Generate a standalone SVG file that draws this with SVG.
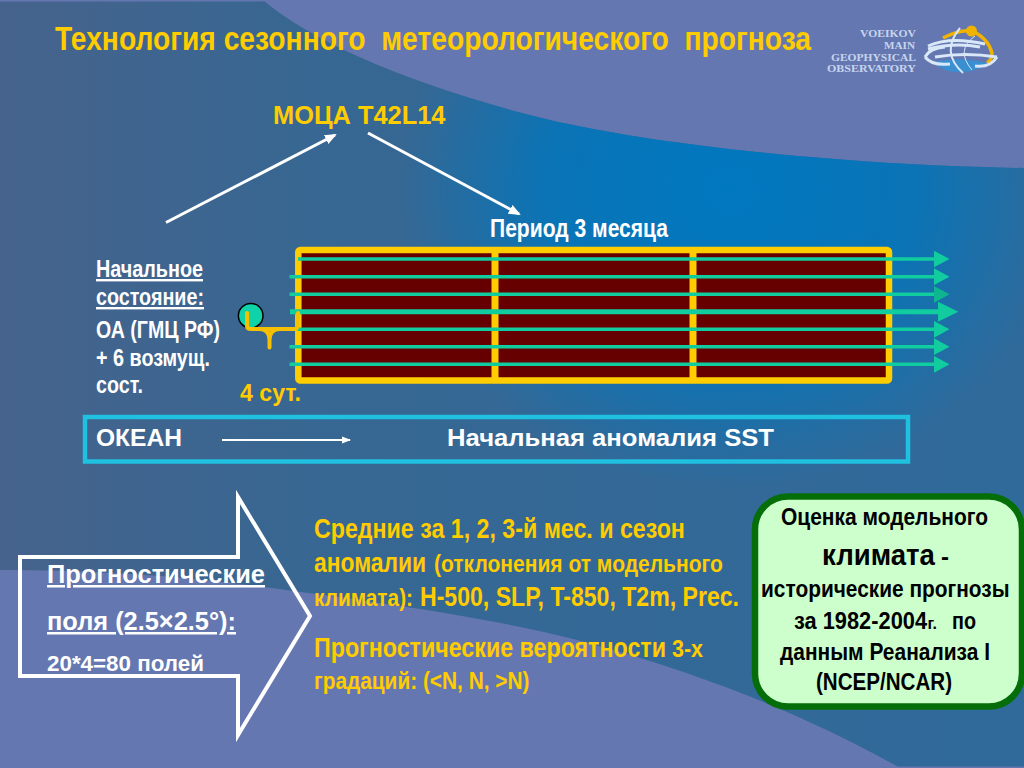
<svg xmlns="http://www.w3.org/2000/svg" width="1024" height="768" viewBox="0 0 1024 768">
<defs>
<linearGradient id="bg" x1="0" y1="0" x2="1" y2="0"><stop offset="0" stop-color="#46638c"/><stop offset="0.3" stop-color="#376792"/><stop offset="1" stop-color="#2f6a9b"/></linearGradient>
<radialGradient id="glow" gradientUnits="userSpaceOnUse" cx="0" cy="0" r="1" gradientTransform="translate(730 190) scale(330 300)"><stop offset="0" stop-color="#0078c0"/><stop offset="0.55" stop-color="#0a74b6"/><stop offset="1" stop-color="#0a74b6" stop-opacity="0"/></radialGradient>
<clipPath id="band"><path d="M263,0C310,40 400,80 522,113C620,140 820,165 1024,168V768H900C780,700 660,662 577,640C500,620 400,605 300,592C200,577 100,570 0,570V0Z"/></clipPath>
<marker id="w" markerUnits="userSpaceOnUse" markerWidth="12" markerHeight="10" refX="10" refY="5" orient="auto"><path d="M0,0L12,5L0,10Z" fill="#fff"/></marker>
<marker id="t" markerUnits="userSpaceOnUse" markerWidth="9" markerHeight="8" refX="8" refY="4" orient="auto"><path d="M0,0.500L9,4L0,7.500Z" fill="#fff"/></marker>
</defs>
<style>
text{font-family:"Liberation Sans",Arial,sans-serif;font-weight:bold;white-space:pre}
text.s{font-family:"Liberation Serif","Times New Roman",serif;font-size:10px;fill:#c5d5ee}
.y{fill:#ffcc00}.k{fill:#000}.w{fill:#fff}
.g{stroke:#10cc9f;stroke-width:3.500;fill:none}.h{fill:#10cc9f}
.c{font-size:24px}
</style>
<rect width="1024" height="768" fill="#6577b0"/>
<g clip-path="url(#band)"><rect width="1024" height="768" fill="url(#bg)"/><rect width="1024" height="768" fill="url(#glow)"/></g>
<path d="M0,0H1024V1.500H0ZM0,766.500H1024V768H0Z" fill="#6577b0"/>
<g id="title"><text transform="translate(55 50) scale(.841 1)" class="y" font-size="34" textLength="899" lengthAdjust="spacingAndGlyphs">Технология сезонного  метеорологического  прогноза</text></g>
<g id="logo">
<text class="s" x="860" y="37" textLength="56" lengthAdjust="spacingAndGlyphs">VOEIKOV</text>
<text class="s" x="884" y="49" textLength="31" lengthAdjust="spacingAndGlyphs">MAIN</text>
<text class="s" x="831" y="60.500" textLength="85" lengthAdjust="spacingAndGlyphs">GEOPHYSICAL</text>
<text class="s" x="827" y="72" textLength="89" lengthAdjust="spacingAndGlyphs">OBSERVATORY</text>
<path d="M943,38Q960,29 972,31Q988,38 992,53Q992,60 987,63" fill="none" stroke="#f0b400" stroke-width="3.500"/><circle cx="971.500" cy="31" r="5.500" fill="#f0b400"/>
<path d="M933,62Q960,56 987,63Q978,72 960,72Q942,72 933,62Z" fill="#3a8fd0"/>
<path d="M928,46Q950,36 985,44M928,49Q955,42 980,47M925,57Q930,48 945,47M925,57Q932,66 950,64M997,57Q990,68 975,66M935,57Q965,52 997,57" fill="none" stroke="#d8e8f8" stroke-width="3"/>
<path d="M960,28Q940,52 963,73" fill="none" stroke="#d8e8f8" stroke-width="2"/>
<path d="M975,36Q955,50 972,70" fill="none" stroke="#d8e8f8" stroke-width="1"/>
</g>
<g id="model"><text x="273" y="124" class="y" font-size="25" textLength="172.500" lengthAdjust="spacingAndGlyphs">МОЦА Т42L14</text></g>
<g id="connectors" fill="none" stroke="#fff" stroke-width="3">
<path d="M166,222.500L335,135" marker-end="url(#w)"/>
<path d="M368,133L519,214" marker-end="url(#w)"/>
<path d="M222,440H350" stroke-width="2" marker-end="url(#t)"/>
</g>
<g id="period"><text x="490" y="237" class="w" font-size="25" textLength="178" lengthAdjust="spacingAndGlyphs">Период 3 месяца</text></g>
<g id="initial">
<text x="96" y="277" class="w" font-size="24" text-decoration="underline" textLength="107" lengthAdjust="spacingAndGlyphs">Начальное</text>
<text x="96" y="305" class="w" font-size="24" text-decoration="underline" textLength="108" lengthAdjust="spacingAndGlyphs">состояние:</text>
<text x="96" y="338" class="w" font-size="24" textLength="124" lengthAdjust="spacingAndGlyphs">ОА (ГМЦ РФ)</text>
<text x="96" y="366" class="w" font-size="24" textLength="114" lengthAdjust="spacingAndGlyphs">+ 6 возмущ.</text>
<text x="96" y="393" class="w" font-size="24" textLength="47" lengthAdjust="spacingAndGlyphs">сост.</text>
</g>
<g id="period-box">
<rect x="298.300" y="250" width="590.700" height="130.500" rx="2" fill="#660000" stroke="#ffcc00" stroke-width="6.500"/>
<path d="M495,250V380M693,250V380" stroke="#ffcc00" stroke-width="7"/>
</g>
<g id="runs">
<path class="g" d="M298,259H936M289.500,276.700H936M289.500,294.300H936M297,329.300H936M289.500,346.700H936M289.500,364.300H936"/>
<path class="g" style="stroke-width:5" d="M290,311.700H940"/>
<path class="h" d="M934,250.700L949.500,259L934,267.300ZM934,268.300L949.500,276.700L934,285ZM938,301.700L958.300,311.700L938,321.700ZM934,321L949.500,329.300L934,337.700ZM934,338.300L949.500,346.700L934,355ZM934,356L949.500,364.300L934,372.700Z"/>
<path d="M934,286L949.500,294.300L934,302.700Z" fill="#0fb58f"/>
</g>
<g id="start">
<circle cx="250.700" cy="315.700" r="12.300" fill="#10d2a8" stroke="#000" stroke-width="1.500"/>
<path d="M247,313V326Q247,329 251,329H296Q298,329 298,313M259,329Q269.500,329 269.500,340V347.500M269.500,340Q269.500,329 280,329" fill="none" stroke="#f5c000" stroke-width="4" stroke-linecap="round"/>
<text x="240" y="401" class="y" font-size="24" textLength="61" lengthAdjust="spacingAndGlyphs">4 сут.</text>
</g>
<g id="ocean">
<rect x="85" y="417" width="823" height="44.500" fill="none" stroke="#1fc0e0" stroke-width="4.500"/>
<text x="96" y="446" class="w" font-size="24" textLength="86" lengthAdjust="spacingAndGlyphs">ОКЕАН</text>
<text x="447" y="446" class="w" font-size="24" textLength="327" lengthAdjust="spacingAndGlyphs">Начальная аномалия SST</text>
</g>
<g id="fields">
<path d="M20,557H238V497L310,616L238,735V676H20Z" fill="none" stroke="#fff" stroke-width="4"/>
<text x="47" y="583" class="w" font-size="25" text-decoration="underline" textLength="218" lengthAdjust="spacingAndGlyphs">Прогностические</text>
<text x="47" y="630" class="w" font-size="25" text-decoration="underline" textLength="189" lengthAdjust="spacingAndGlyphs">поля (2.5×2.5°):</text>
<text x="47" y="670.500" class="w" font-size="22" textLength="157" lengthAdjust="spacingAndGlyphs">20*4=80 полей</text>
</g>
<g id="results">
<text transform="translate(314 537.500) scale(.826 1)" class="y" font-size="28" textLength="449" lengthAdjust="spacingAndGlyphs">Средние за 1, 2, 3-й мес. и сезон</text>
<text transform="translate(314 571.500) scale(.806 1)" class="y" font-size="28" textLength="139" lengthAdjust="spacingAndGlyphs">аномалии</text>
<text transform="translate(434 571.500) scale(.878 1)" class="y" font-size="24" textLength="329" lengthAdjust="spacingAndGlyphs">(отклонения от модельного</text>
<text transform="translate(314 605.500) scale(.873 1)" class="y" font-size="24" textLength="113.400" lengthAdjust="spacingAndGlyphs">климата):</text>
<text transform="translate(420 605.500) scale(.813 1)" class="y" font-size="28" textLength="392.400" lengthAdjust="spacingAndGlyphs">Н-500, SLP, T-850, T2m, Prec.</text>
<text transform="translate(314 656.500) scale(.8 1)" class="y" font-size="28" textLength="440" lengthAdjust="spacingAndGlyphs">Прогностические вероятности</text>
<text transform="translate(672 656.500) scale(.894 1)" class="y" font-size="24" textLength="34.700" lengthAdjust="spacingAndGlyphs">3-х</text>
<text transform="translate(314 689) scale(.865 1)" class="y" font-size="24" textLength="249" lengthAdjust="spacingAndGlyphs">градаций: (&lt;N, N, &gt;N)</text>
</g>
<g id="climate">
<rect x="755" y="496.500" width="267" height="210" rx="33" fill="#ccffcc" stroke="#056e08" stroke-width="6.500"/>
<text transform="translate(781 525) scale(.874 1)" class="k c" textLength="236.800" lengthAdjust="spacingAndGlyphs">Оценка модельного</text>
<text transform="translate(822 565) scale(.926 1)" class="k" font-size="30" textLength="122" lengthAdjust="spacingAndGlyphs">климата</text>
<text x="941" y="565" class="k" font-size="24">-</text>
<text transform="translate(761 597) scale(.872 1)" class="k c" textLength="285" lengthAdjust="spacingAndGlyphs">исторические прогнозы</text>
<text transform="translate(794 629) scale(.913 1)" class="k c" textLength="145.700" lengthAdjust="spacingAndGlyphs">за 1982-2004</text>
<text x="927.500" y="629" class="k" font-size="16">г.</text>
<text transform="translate(952 629) scale(.82 1)" class="k c" textLength="29.300" lengthAdjust="spacingAndGlyphs">по</text>
<text transform="translate(780 660) scale(.875 1)" class="k c" textLength="240" lengthAdjust="spacingAndGlyphs">данным Реанализа I</text>
<text transform="translate(816 690) scale(.857 1)" class="k c" textLength="158.700" lengthAdjust="spacingAndGlyphs">(NCEP/NCAR)</text>
</g>
</svg>
